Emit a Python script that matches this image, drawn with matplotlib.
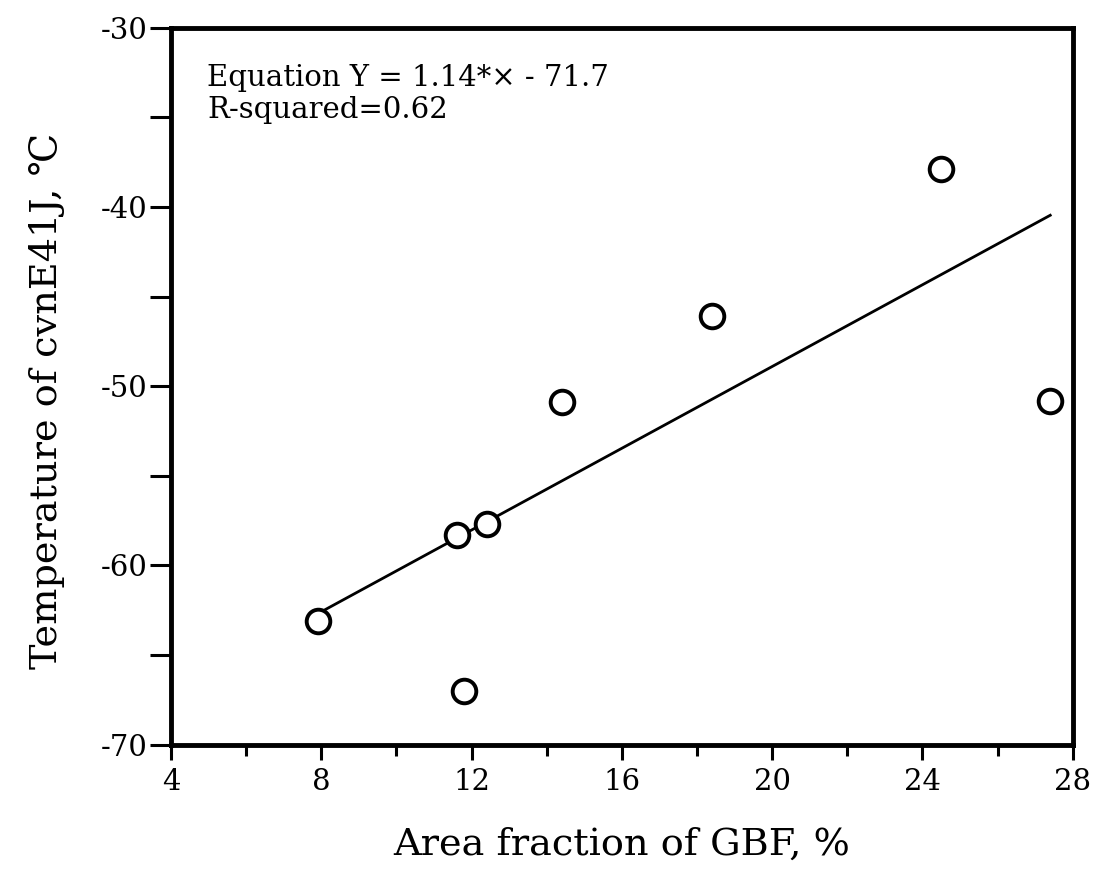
import matplotlib
matplotlib.use('Agg')
import matplotlib.pyplot as plt
import numpy as np
from matplotlib.ticker import MultipleLocator

plt.rcParams['font.family'] = ['DejaVu Serif', 'DejaVu Sans']
plt.rcParams['axes.unicode_minus'] = False

# data
gbf_area = [7.9, 11.6, 12.4, 11.8, 14.4, 18.4, 24.5, 27.4]
temp_cvn = [-63.1, -58.3, -57.7, -67.0, -50.9, -46.1, -37.9, -50.8]
slope = 1.14
intercept = -71.7
r_squared = 0.62

fig = plt.figure(figsize=(10.93, 8.93), dpi=100)
ax = fig.add_axes([0.1565, 0.166, 0.825, 0.803])

# fit line over the data range
xfit = np.array([min(gbf_area), max(gbf_area)])
ax.plot(xfit, slope * xfit + intercept, color='black', lw=2)
ax.plot(gbf_area, temp_cvn, 'o', ms=17, mfc='white', mec='black', mew=2.8,
        clip_on=False, zorder=3)

ax.set_xlim(4, 28)
ax.set_ylim(-70, -30)
ax.xaxis.set_major_locator(MultipleLocator(4))
ax.xaxis.set_minor_locator(MultipleLocator(2))
ax.yaxis.set_major_locator(MultipleLocator(10))
ax.yaxis.set_minor_locator(MultipleLocator(5))
ax.tick_params(which='both', direction='out', top=False, right=False,
               width=2.2, labelsize=21, pad=6)
ax.tick_params(axis='x', which='major', length=11)
ax.tick_params(axis='x', which='minor', length=8)
ax.tick_params(axis='y', which='both', length=15, pad=2)

for sp in ax.spines.values():
    sp.set_linewidth(3.5)

ax.set_xlabel('Area fraction of GBF, %', fontsize=27.5, labelpad=22)
ax.set_ylabel('Temperature of cvnE41J, \u2103', fontsize=27.5)
ax.yaxis.set_label_coords(-0.118, 0.48)

ax.text(0.04, 0.95, f'Equation Y = {slope:.2f}*\u00d7 - {abs(intercept):.1f}\n'
        f'R-squared={r_squared:.2f}',
        transform=ax.transAxes, fontsize=21, va='top', ha='left', linespacing=1.2)

fig.savefig('out.png', dpi=100)
